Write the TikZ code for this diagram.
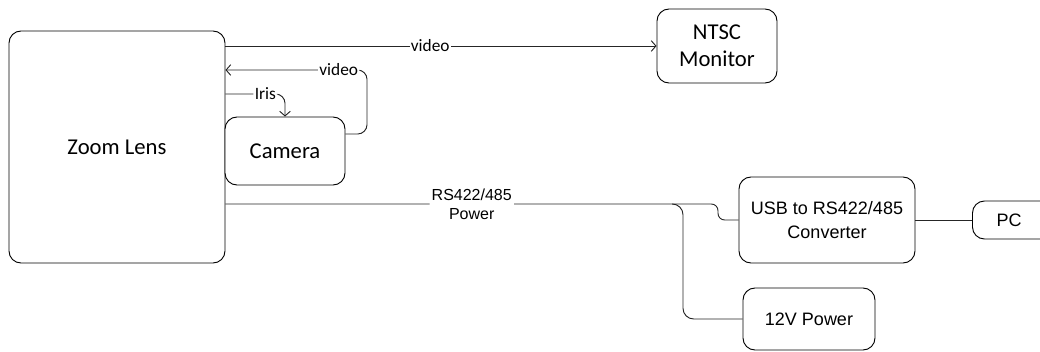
\documentclass[tikz,border=0pt]{standalone}
\usepackage{fontspec}
\setmainfont{Carlito}
\newfontfamily\jfont{Liberation Sans}
\usetikzlibrary{arrows.meta}
\tikzset{
  box/.style={draw=black, line width=0.7pt, rounded corners=9pt, fill=white, inner sep=0pt, align=center},
  big/.style={font=\fontsize{17}{20}\selectfont},
  jbig/.style={font=\jfont\fontsize{13.5}{18.5}\selectfont},
  conn/.style={draw=black!85, line width=0.7pt},
  arr/.style={conn, -{Straight Barb[length=3.5pt,width=8pt]}},
  lbl/.style={fill=white, inner sep=1pt, font=\fontsize{13}{15}\selectfont},
  jlbl/.style={fill=white, inner sep=1.5pt, align=center, font=\jfont\fontsize{12}{14.5}\selectfont}
}
\begin{document}
\begin{tikzpicture}[x=0.75pt, y=-0.75pt]
\useasboundingbox (0,0) rectangle (1040,351);
% nodes
\node[box, big, minimum width=162pt, minimum height=174pt] (zoom) at (117,147) {Zoom Lens};
\node[box, big, minimum width=90pt, minimum height=51pt] (cam) at (285,151) {Camera};
\node[box, big, minimum width=90pt, minimum height=55.5pt] (ntsc) at (717,46) {NTSC\\Monitor};
\node[box, jbig, minimum width=132pt, minimum height=64.5pt] (usb) at (827,220) {USB to RS422/485\\Converter};
\node[box, minimum width=75pt, minimum height=28.5pt, anchor=west] (pc) at (972,220) {};
\node[jbig, inner sep=0pt] (pctext) at (1009,220) {PC};
\node[box, jbig, minimum width=99pt, minimum height=46.5pt] (pwr) at (809,319) {12V Power};
% helper coordinates
\coordinate (v2) at (367,70);
\coordinate (ir) at (285,94);
\coordinate (j) at (683,204);
\coordinate (jb) at (672,204);
\coordinate (jog) at (718,204);
\coordinate (jog2) at (718,220);
% connectors
\draw[arr] (zoom.east |- ntsc.west) -- node[lbl, pos=0.475] {video} (ntsc.west);
\draw[arr, rounded corners=7pt] ([yshift=12.75pt]cam.east) -| (v2) -- node[lbl, pos=0.2] {video} (zoom.east |- v2);
\draw[arr, rounded corners=7pt] (zoom.east |- ir) -- node[lbl, pos=0.67] {Iris} (ir) -- (cam.north);
\draw[conn, rounded corners=8pt] (jb) -- (j) |- (pwr.west);
\draw[conn, rounded corners=5pt] (zoom.east |- j) -- node[jlbl, pos=0.5] {RS422/485\\Power} (jog) -- (jog2) -- (usb.west);
\draw[conn] (usb.east) -- (pc.west);
\end{tikzpicture}
\end{document}
